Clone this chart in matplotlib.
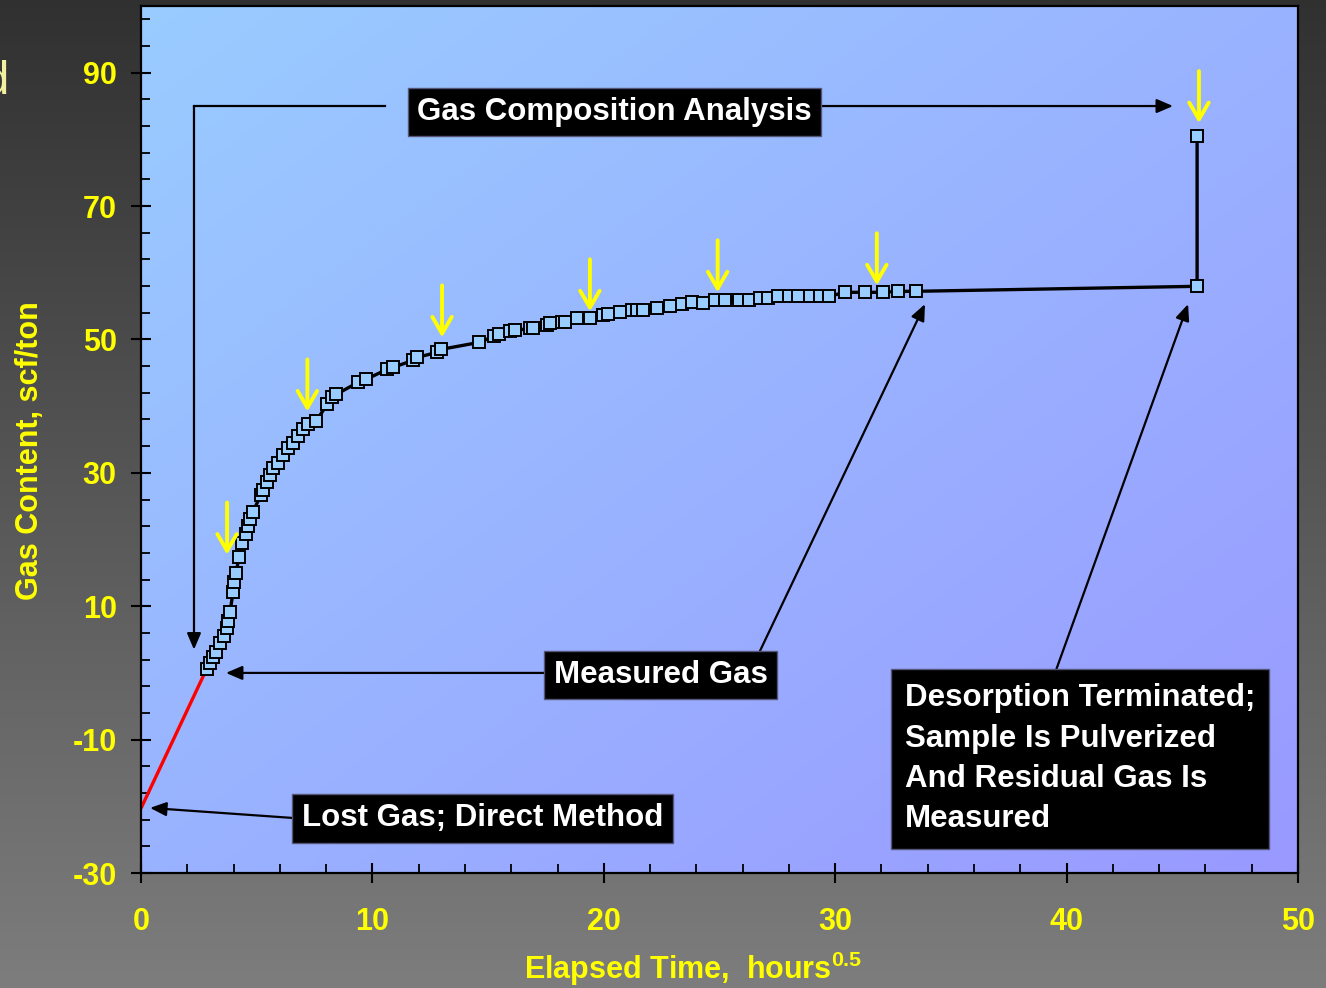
import matplotlib
matplotlib.use('Agg')
import matplotlib.pyplot as plt
import numpy as np

plt.rcParams['font.family'] = ['Liberation Sans', 'DejaVu Sans']
plt.rcParams['mathtext.fontset'] = 'custom'
plt.rcParams['mathtext.rm'] = 'Liberation Sans'
plt.rcParams['mathtext.bf'] = 'Liberation Sans:bold'
plt.rcParams['axes.unicode_minus'] = False

# Измеренный газ: время (часы^0.5) и газосодержание (scf/ton)
time_sqrt = [2.84, 2.98, 3.11, 3.24, 3.41, 3.59, 3.72, 3.76, 3.85, 3.98,
             4.02, 4.11, 4.24, 4.36, 4.54, 4.62, 4.71, 4.84, 5.19, 5.27,
             5.45, 5.57, 5.70, 5.92, 6.14, 6.35, 6.57, 6.78, 7.00, 7.22,
             7.56, 8.04, 8.25, 8.43, 9.38, 9.72, 10.63, 10.89, 11.75, 11.93,
             12.79, 12.96, 14.61, 15.25, 15.47, 15.95, 16.16, 16.81, 16.94, 17.55,
             17.67, 18.19, 18.32, 18.84, 19.40, 19.97, 20.18, 20.70, 21.22, 21.43,
             21.69, 22.30, 22.86, 23.38, 23.81, 24.29, 24.81, 25.24, 25.84, 26.27,
             26.75, 27.10, 27.53, 28.00, 28.39, 28.91, 29.34, 29.73, 30.42, 31.29,
             32.07, 32.71, 33.49, 45.64, 45.64]
gas_content = [0.62, 1.52, 2.42, 3.18, 4.53, 5.58, 6.78, 7.83, 9.18, 12.18,
               13.68, 15.03, 17.44, 19.54, 20.89, 22.09, 23.14, 24.19, 26.74, 27.49,
               28.70, 29.75, 30.80, 31.55, 32.75, 33.80, 34.55, 35.45, 36.50, 37.25,
               37.70, 40.25, 41.30, 41.76, 43.56, 44.01, 45.51, 45.81, 46.86, 47.31,
               48.06, 48.51, 49.56, 50.46, 50.76, 51.21, 51.36, 51.66, 51.66, 52.11,
               52.41, 52.56, 52.56, 53.16, 53.16, 53.61, 53.76, 54.06, 54.37, 54.37,
               54.37, 54.67, 54.97, 55.27, 55.57, 55.42, 55.87, 55.87, 55.87, 55.87,
               56.17, 56.17, 56.47, 56.47, 56.47, 56.47, 56.47, 56.47, 57.07, 57.07,
               57.07, 57.22, 57.22, 57.97, 80.47]

# Потерянный газ (прямой метод)
lost_x = [0.0, 2.84]
lost_y = [-20.3, 0.62]

# Жёлтые стрелки - отбор проб на анализ состава газа
sample_x = [3.72, 7.19, 13.01, 19.40, 24.92, 31.80, 45.72]
sample_y = [17.74, 39.20, 50.31, 54.22, 57.07, 58.12, 82.44]

x_ticks = [0, 10, 20, 30, 40, 50]
y_ticks = [-30, -10, 10, 30, 50, 70, 90]

fig = plt.figure(figsize=(13.26, 9.88), dpi=100)

# фон слайда - вертикальный градиент серого (сверху темнее)
bg = fig.add_axes([0, 0, 1, 1], zorder=-10)
g = np.linspace(0.19, 0.49, 256).reshape(-1, 1)
bg.imshow(np.dstack([g, g, g]), aspect='auto', extent=[0, 1, 0, 1])
bg.set_xlim(0, 1)
bg.set_ylim(0, 1)
bg.axis('off')
fig.text(9 / 1326, 1 - 82 / 988, 'd', color='#f2f0a0', fontsize=34,
         ha='right', va='center')

ax = fig.add_axes([141 / 1326, 1 - 873 / 988, 1157 / 1326, 867 / 988])
ax.patch.set_visible(False)

# диагональный градиент фона графика: светло-голубой слева сверху -> сиреневый справа снизу
u, v = np.meshgrid(np.linspace(0, 1, 300), np.linspace(0, 1, 300))
t = (u + v) / 2
grad = np.dstack([np.full_like(t, 0.60), 0.80 - 0.20 * t, np.full_like(t, 1.0)])
ax.imshow(grad, aspect='auto', extent=[0, 1, 0, 1], transform=ax.transAxes,
          zorder=0, interpolation='bilinear')

ax.plot(lost_x, lost_y, color='red', lw=2.4, zorder=3, solid_capstyle='butt')
ax.plot(time_sqrt, gas_content, color='black', lw=2.4, marker='s', markersize=8.5,
        markerfacecolor='#99ccff', markeredgecolor='black', markeredgewidth=1.4,
        zorder=4)

for x, y in zip(sample_x, sample_y):
    ax.annotate('', xy=(x, y), xytext=(x, y + 7.8),
                arrowprops=dict(arrowstyle='->,head_length=0.6,head_width=0.35',
                                color='yellow', lw=2.8, mutation_scale=20,
                                shrinkA=0, shrinkB=0), zorder=5)

box = dict(boxstyle='square,pad=0.3', facecolor='black', edgecolor='#555577', lw=1)
txt = dict(color='white', fontsize=22.5, fontweight='bold', zorder=7)
head = dict(arrowstyle='-|>,head_length=0.7,head_width=0.3', color='black', lw=1.6,
            mutation_scale=14, shrinkA=0, shrinkB=0)

# Gas Composition Analysis
ax.text(20.46, 84.1, 'Gas Composition Analysis', ha='center', va='center', bbox=box, **txt)
ax.plot([10.54, 2.29], [85.0, 85.0], color='black', lw=1.6, zorder=5)
ax.annotate('', xy=(2.29, 3.5), xytext=(2.29, 85.0), arrowprops=head, zorder=5)
ax.annotate('', xy=(44.6, 85.0), xytext=(29.4, 85.0), arrowprops=head, zorder=5)

# Measured Gas
ax.text(22.45, -0.3, 'Measured Gas', ha='center', va='center', bbox=box, **txt)
ax.annotate('', xy=(3.67, 0.0), xytext=(17.42, 0.0), arrowprops=head, zorder=5)
ax.annotate('', xy=(33.88, 55.3), xytext=(26.75, 3.3), arrowprops=head, zorder=5)

# Desorption Terminated
ax.text(33.0, -12.9, 'Desorption Terminated;\nSample Is Pulverized\nAnd Residual Gas Is\nMeasured',
        ha='left', va='center', linespacing=1.45, bbox=dict(boxstyle='square,pad=0.45',
        facecolor='black', edgecolor='#555577', lw=1), **txt)
ax.annotate('', xy=(45.25, 55.3), xytext=(39.5, 0.0), arrowprops=head, zorder=5)

# Lost Gas
ax.text(14.76, -21.8, 'Lost Gas; Direct Method', ha='center', va='center', bbox=box, **txt)
ax.annotate('', xy=(0.39, -20.24), xytext=(6.53, -21.74), arrowprops=head, zorder=5)

ax.set_xlim(0, 50)
ax.set_ylim(-30, 100)
ax.set_xticks(x_ticks)
ax.set_yticks(y_ticks)
ax.set_xticks(np.arange(0, 51, 2), minor=True)
ax.set_yticks(np.arange(-30, 101, 4), minor=True)
ax.tick_params(which='major', direction='inout', length=15, width=1.5,
               labelsize=22, labelcolor='yellow', color='black')
ax.tick_params(axis='x', which='major', pad=17)
ax.tick_params(axis='y', which='major', pad=10)
ax.tick_params(which='minor', direction='in', length=6.5, width=1.3, color='black')
for lab in ax.get_xticklabels() + ax.get_yticklabels():
    lab.set_fontweight('bold')
for s in ax.spines.values():
    s.set_linewidth(1.6)
    s.set_zorder(6)

ax.set_xlabel(r'Elapsed Time,  hours$^{\mathbf{0.5}}$', color='yellow', fontsize=22,
              fontweight='bold')
ax.set_ylabel('Gas Content, scf/ton', color='yellow', fontsize=22, fontweight='bold')
ax.xaxis.set_label_coords(0.477, -0.088)
ax.yaxis.set_label_coords(-0.083, 0.487)

fig.savefig('out.png', dpi=100)
